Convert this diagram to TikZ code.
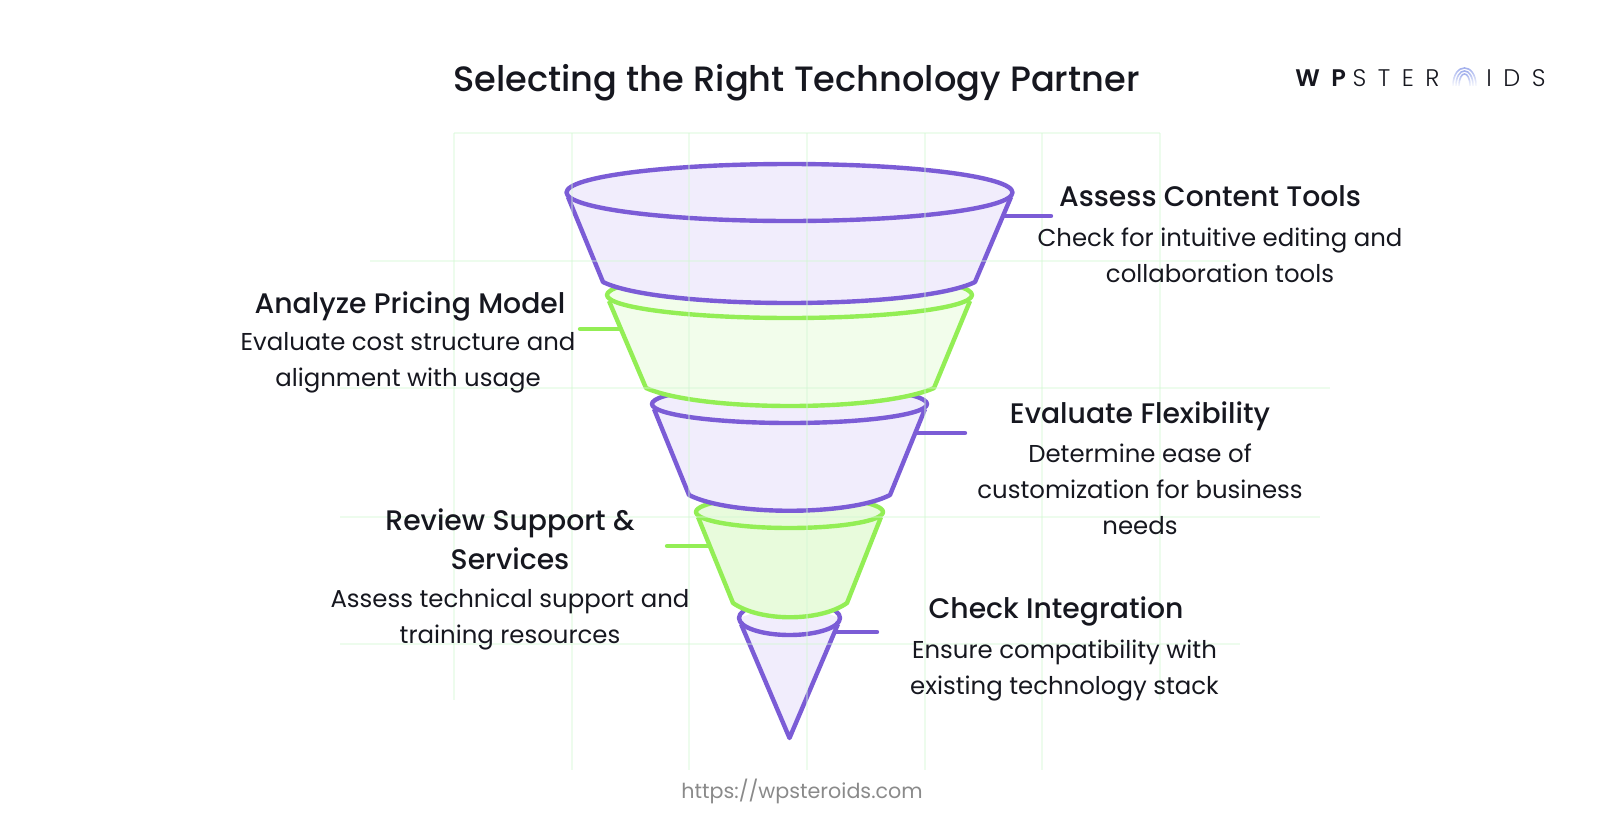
\documentclass[tikz,border=0pt]{standalone}
\usepackage{fontspec}
\usetikzlibrary{fadings}
\setmainfont{Poppins}
\newfontfamily\headfont{Poppins Medium}
\newfontfamily\logofont[LetterSpace=48]{Poppins Light}
\newfontfamily\logobold[LetterSpace=48]{Poppins SemiBold}
\definecolor{ink}{HTML}{16171F}
\definecolor{urlgray}{HTML}{8A8A8A}
\definecolor{violetline}{HTML}{7B5CD6}
\definecolor{violetfill}{HTML}{F1EDFC}
\definecolor{limeline}{HTML}{93EE55}
\definecolor{limefill}{HTML}{F2FDEB}
\definecolor{limefilldark}{HTML}{E8FBDC}
\definecolor{gridline}{HTML}{D2F7D2}
\definecolor{logoarc}{HTML}{8496E6}
\tikzset{
  seg/.style={line width=3.3pt, line join=round},
  link/.style={line width=3.3pt, line cap=round},
  heading/.style={font=\headfont\fontsize{21.2}{29}\selectfont, text=ink, anchor=base, align=center, inner sep=0pt},
  detail/.style={font=\fontsize{18.3}{27}\selectfont, text=ink, anchor=base, align=center, inner sep=0pt},
  logotext/.style={anchor=base west, inner sep=0pt, text=ink, font=\logofont\fontsize{18}{20}\selectfont}
}
\begin{document}
\begin{tikzpicture}[x=0.75pt, y=-0.75pt]
  \useasboundingbox (0,0) rectangle (1612,818);
  % funnel, lowest part first
  \fill[violetfill] (789.5,738) -- (741,624) -- (739,618) -- (789.5,600) -- (840,618) -- (838,624) -- cycle;
  \draw[seg, violetline] (741,624) -- (789.5,738) -- (838,624);
  \draw[seg, violetline] (789.5,618) ellipse [x radius=50.5, y radius=17];

  \fill[limefilldark] (698,517) -- (733,603) .. controls (760,622) and (820,622) .. (847,603) -- (881,517) -- (789.5,495) -- cycle;
  \fill[limefilldark] (789.5,512) ellipse [x radius=93.5, y radius=16];
  \draw[seg, limeline] (698,517) -- (733,603) .. controls (760,622) and (820,622) .. (847,603) -- (881,517);
  \draw[seg, limeline] (789.5,512) ellipse [x radius=93.5, y radius=16];

  \fill[violetfill] (654,409) -- (689,495) .. controls (730,516) and (849,516) .. (890,495) -- (925,409) -- (789.5,385) -- cycle;
  \fill[violetfill] (789.5,404) ellipse [x radius=137.5, y radius=19];
  \draw[seg, violetline] (654,409) -- (689,495) .. controls (730,516) and (849,516) .. (890,495) -- (925,409);
  \draw[seg, violetline] (789.5,404) ellipse [x radius=137.5, y radius=19];

  \fill[limefill] (609,301) -- (646,388) .. controls (700,412) and (880,412) .. (934,388) -- (970,301) -- (789.5,272) -- cycle;
  \fill[limefill] (789.5,295) ellipse [x radius=182.5, y radius=23];
  \draw[seg, limeline] (609,301) -- (646,388) .. controls (700,412) and (880,412) .. (934,388) -- (970,301);
  \draw[seg, limeline] (789.5,295) ellipse [x radius=182.5, y radius=23];

  \fill[violetfill] (568,197) -- (603,282) .. controls (660,310) and (918,310) .. (975,282) -- (1011,197) -- (789.5,164) -- cycle;
  \draw[seg, violetline] (568,197) -- (603,282) .. controls (660,310) and (918,310) .. (975,282) -- (1011,197);
  \draw[seg, violetline, fill=violetfill] (789.5,192.5) ellipse [x radius=223, y radius=28.5];

  % faint grid
  \begin{scope}[gridline, line width=1pt, opacity=.4]
    \foreach \gx in {572,689,807,925,1042}
      \draw (\gx,133) -- (\gx,770);
    \draw (1160,133) -- (1160,700);
    \draw (454,133) -- (454,700);
    \draw (454,133) -- (1160,133);
    \draw (370,261) -- (1230,261);
    \draw (340,388) -- (1330,388);
    \draw (340,517) -- (1320,517);
    \draw (340,644) -- (1240,644);
  \end{scope}

  % connectors
  \coordinate (contentEdge) at (1004,216);
  \coordinate (contentTip) at (1051,216);
  \coordinate (pricingEdge) at (619,329);
  \coordinate (pricingTip) at (580,329);
  \coordinate (flexEdge) at (917,433);
  \coordinate (flexTip) at (965,433);
  \coordinate (supportEdge) at (708,546);
  \coordinate (supportTip) at (667,546);
  \coordinate (integEdge) at (835,632);
  \coordinate (integTip) at (877,632);
  \draw[link, violetline] (contentEdge) -- (contentTip);
  \draw[link, limeline] (pricingEdge) -- (pricingTip);
  \draw[link, violetline] (flexEdge) -- (flexTip);
  \draw[link, limeline] (supportEdge) -- (supportTip);
  \draw[link, violetline] (integEdge) -- (integTip);

  % texts
  \node[heading, font=\headfont\fontsize{26.4}{36}\selectfont] (title) at (796.5,91) {Selecting the Right Technology Partner};
  \node[heading] (contentHead) at (1210,206) {Assess Content Tools};
  \node[detail] (contentText) at (1220,282) {Check for intuitive editing and\\collaboration tools};
  \node[heading] (pricingHead) at (410,313) {Analyze Pricing Model};
  \node[detail] (pricingText) at (408,386) {Evaluate cost structure and\\alignment with usage};
  \node[heading] (flexHead) at (1140,423) {Evaluate Flexibility};
  \node[detail] (flexText) at (1140,534) {Determine ease of\\customization for business\\needs};
  \node[heading] (supportHead) at (510,569) {Review Support \&\\Services};
  \node[detail] (supportText) at (510,643) {Assess technical support and\\training resources};
  \node[heading] (integHead) at (1056,618) {Check Integration};
  \node[detail] (integText) at (1064.5,694) {Ensure compatibility with\\existing technology stack};
  \node[detail, text=urlgray, font=\fontsize{15.5}{20}\selectfont] (siteUrl) at (802,798) {https://wpsteroids.com};

  % logo
  \node[logotext] (logoLeft) at (1295,86) {{\logobold WP}\hspace{5pt}STER};
  \node[logotext] (logoRight) at (1486,86) {IDS};
  \foreach \r/\h in {11.5/24, 8.5/20, 5.5/16}
    \draw[logoarc, line width=1.2pt, path fading=south] (1464.5-\r,86) .. controls (1464.5-\r,86-\h) and (1464.5+\r,86-\h) .. (1464.5+\r,86);
\end{tikzpicture}
\end{document}
